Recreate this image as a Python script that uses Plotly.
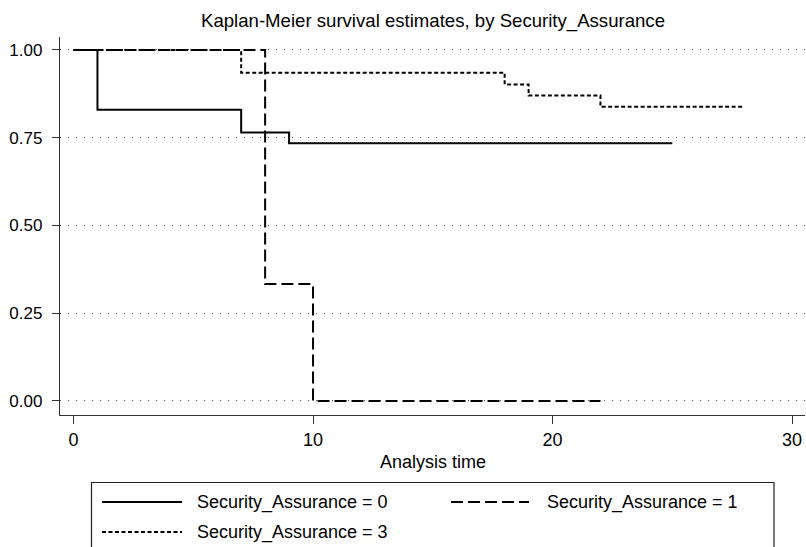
import plotly.graph_objects as go

# Kaplan-Meier step estimates per group
groups = ["Security_Assurance = 0", "Security_Assurance = 1", "Security_Assurance = 3"]
time_sa0 = [0, 1, 7, 9, 25]
surv_sa0 = [1.0, 0.830, 0.765, 0.734, 0.734]
time_sa1 = [0, 8, 10, 22]
surv_sa1 = [1.0, 0.333, 0.0, 0.0]
time_sa3 = [0, 7, 18, 19, 22, 28]
surv_sa3 = [1.0, 0.935, 0.902, 0.870, 0.838, 0.838]

y_ticks = [0.0, 0.25, 0.50, 0.75, 1.00]
y_tick_text = ["0.00", "0.25", "0.50", "0.75", "1.00"]
x_ticks = [0, 10, 20, 30]

W, H = 806, 547
L, R, T, B = 60, 805, 37, 415  # plot area in pixels
FONT = "Liberation Sans, Arial, Helvetica, sans-serif"
FS = 18

dashes = ["solid", "12px,5px", "4px,2.5px"]
series = [(time_sa0, surv_sa0), (time_sa1, surv_sa1), (time_sa3, surv_sa3)]


def px(x):
    return (x - L) / (R - L)


def py(y):
    return (B - y) / (B - T)


fig = go.Figure()
for name, (t, s), d in zip(groups, series, dashes):
    fig.add_trace(go.Scatter(
        x=t, y=s, mode="lines", name=name, line_shape="hv",
        line=dict(color="black", width=2, dash=d), showlegend=False,
    ))

# Boxed legend below the axis title
shapes = [dict(type="rect", xref="paper", yref="paper",
               x0=px(91.5), x1=px(774), y0=py(482.5), y1=py(600),
               line=dict(color="#222", width=1.2), fillcolor="rgba(0,0,0,0)")]
annotations = []
slots = [(102, 182, 195, 502), (451, 529, 545, 502), (102, 182, 195, 532)]
for name, d, (lx0, lx1, tx, ly) in zip(groups, dashes, slots):
    shapes.append(dict(type="line", xref="paper", yref="paper",
                       x0=px(lx0), x1=px(lx1), y0=py(ly), y1=py(ly),
                       line=dict(color="black", width=2, dash=d)))
    annotations.append(dict(text=name, xref="paper", yref="paper",
                            x=px(tx), y=py(ly), xanchor="left", yanchor="middle",
                            showarrow=False, font=dict(family=FONT, size=FS, color="black")))

# Title and x-axis title
annotations.append(dict(text="Kaplan-Meier survival estimates, by Security_Assurance",
                        xref="paper", yref="paper", x=0.5, y=py(21),
                        xanchor="center", yanchor="middle", showarrow=False,
                        font=dict(family=FONT, size=18.6, color="black")))
annotations.append(dict(text="Analysis time", xref="paper", yref="paper",
                        x=0.5, y=py(462), xanchor="center", yanchor="middle",
                        showarrow=False, font=dict(family=FONT, size=FS, color="black")))

fig.update_layout(
    width=W, height=H,
    margin=dict(l=L, r=W - R, t=T, b=H - B, pad=0),
    paper_bgcolor="white", plot_bgcolor="white",
    font=dict(family=FONT, size=FS, color="black"),
    shapes=shapes, annotations=annotations,
    showlegend=False,
)
fig.update_xaxes(
    range=[-0.564, 30.54], tickvals=x_ticks, showgrid=False, zeroline=False,
    showline=True, linecolor="#333", linewidth=1.3,
    ticks="outside", ticklen=8, tickcolor="#333", tickwidth=1.2,
    tickfont=dict(family=FONT, size=FS, color="black"),
)
fig.update_yaxes(
    range=[-0.0399, 1.037], tickvals=y_ticks, ticktext=y_tick_text,
    showgrid=True, gridcolor="#555", gridwidth=1, griddash="1px,7px",
    zeroline=False, showline=True, linecolor="#333", linewidth=1.3,
    ticks="outside", ticklen=7, tickcolor="#333", tickwidth=1.2,
    ticklabelstandoff=6,
    tickfont=dict(family=FONT, size=17, color="black"),
)

fig.write_html("out.html")
